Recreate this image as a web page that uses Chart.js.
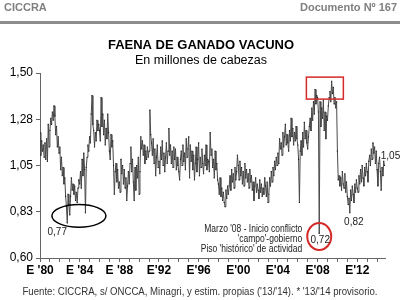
<!DOCTYPE html>
<html>
<head>
<meta charset="utf-8">
<script src="https://cdn.jsdelivr.net/npm/chart.js@4/dist/chart.umd.min.js"></script>
<style>
  html, body { margin: 0; padding: 0; background: #fff; }
  #chart { display: block; }
</style>
</head>
<body>
<canvas id="chart" width="400" height="300"></canvas>
<script>
const FONT = "'Liberation Sans', Arial, sans-serif";

// Faena mensual, millones de cabezas (ene-1980 a oct-2014), una fila por año
const firstYear = 1980;
const faena1980s = [
  1.21, 1.10, 1.17, 1.12, 1.15, 1.09, 1.16, 1.08, 1.18, 1.07, 1.25, 1.14,
  1.22, 1.28, 1.25, 1.31, 1.27, 1.34, 1.29, 1.20, 1.24, 1.14, 1.19, 1.11,
  1.14, 1.03, 1.09, 1.00, 1.04, 0.96, 0.99, 0.90, 0.85, 0.77, 0.91, 0.86,
  0.81, 0.90, 0.99, 0.93, 0.96, 0.91, 0.95, 0.88, 0.92, 0.87, 0.94, 0.98,
  0.96, 1.02, 0.94, 1.08, 1.00, 1.11, 1.03, 0.82, 1.04, 1.09, 1.15, 1.12,
  1.19, 1.16, 1.30, 1.39, 1.25, 1.22, 1.14, 1.21, 1.17, 1.27, 1.22, 1.25,
  1.22, 1.17, 1.38, 1.24, 1.30, 1.20, 1.27, 1.15, 1.23, 1.18, 1.30, 1.21,
  1.12, 1.08, 1.20, 1.14, 1.17, 1.05, 0.91, 1.02, 1.06, 0.97, 1.03, 0.94,
  0.97, 0.92, 1.08, 1.01, 1.05, 0.96, 1.03, 0.94, 0.99, 0.88, 0.95, 1.02,
  0.96, 1.06, 1.14, 1.02, 1.08, 0.97, 0.88, 1.04, 0.93, 1.05, 0.99, 1.09
];
const faena1990s = [
  0.91, 1.02, 1.19, 1.13, 1.17, 1.10, 1.15, 1.06, 1.12, 1.08, 1.14, 1.09,
  1.12, 1.32, 1.20, 1.16, 1.10, 1.18, 1.06, 1.13, 1.00, 1.09, 1.15, 1.04,
  1.07, 1.01, 1.14, 1.08, 1.17, 1.05, 1.11, 1.02, 1.09, 1.16, 1.06, 1.12,
  1.23, 1.10, 1.15, 1.06, 1.12, 1.04, 1.14, 1.08, 1.13, 1.03, 1.09, 1.05,
  1.02, 0.98, 1.08, 1.12, 1.05, 1.15, 1.07, 1.11, 1.03, 1.18, 1.09, 1.13,
  1.19, 0.99, 1.15, 1.07, 1.12, 1.03, 1.10, 0.98, 1.06, 1.14, 1.02, 1.08,
  1.16, 1.00, 1.09, 1.04, 1.13, 1.06, 1.01, 1.10, 1.05, 1.15, 1.03, 1.08,
  1.07, 1.02, 1.21, 1.10, 1.13, 1.04, 1.08, 0.99, 1.12, 1.03, 1.06, 0.98,
  0.96, 0.91, 0.99, 0.90, 0.94, 0.88, 0.92, 0.87, 0.85, 0.93, 0.89, 0.95,
  0.91, 0.95, 1.00, 0.93, 1.03, 0.97, 1.01, 0.94, 1.04, 0.98, 1.02, 1.10
];
const faena2000s = [
  1.05, 0.98, 1.07, 1.00, 1.04, 0.96, 1.02, 0.95, 1.06, 0.99, 1.03, 0.97,
  1.01, 0.94, 1.03, 0.97, 1.00, 0.93, 0.97, 0.88, 0.95, 0.99, 0.92, 0.96,
  0.93, 0.89, 0.98, 0.92, 0.96, 0.90, 0.94, 0.91, 0.99, 0.95, 0.90, 0.97,
  0.87, 0.91, 0.99, 0.95, 1.02, 0.97, 1.04, 1.00, 1.07, 1.03, 1.09, 1.05,
  1.11, 1.06, 1.18, 1.13, 1.16, 1.10, 1.21, 1.14, 1.19, 1.25, 1.15, 1.20,
  1.16, 1.12, 1.22, 1.17, 1.28, 1.19, 1.23, 1.15, 1.21, 1.17, 1.24, 1.18,
  1.15, 1.08, 0.87, 1.12, 1.17, 1.10, 1.21, 1.14, 1.26, 1.18, 1.22, 1.16,
  1.13, 1.19, 1.24, 1.28, 1.22, 1.33, 1.27, 1.36, 1.30, 1.42, 1.35, 1.39,
  1.38, 1.31, 0.72, 1.36, 1.24, 1.33, 1.28, 1.37, 1.22, 1.31, 1.18, 1.29,
  1.27, 1.34, 1.38, 1.41, 1.36, 1.46, 1.40, 1.43, 1.35, 1.38, 1.33, 1.36
];
const faena2010s = [
  1.12, 0.98, 1.00, 0.95, 0.99, 0.93, 1.02, 0.96, 0.94, 1.01, 0.92, 0.97,
  0.90, 0.86, 0.89, 0.82, 0.93, 0.88, 0.95, 0.91, 0.87, 0.96, 0.92, 0.98,
  0.94, 0.92, 1.00, 0.96, 1.03, 0.97, 1.05, 0.99, 0.95, 1.04, 1.00, 1.06,
  1.02, 0.97, 1.07, 1.10, 1.05, 1.13, 1.08, 1.16, 1.11, 1.14, 1.06, 1.12,
  1.03, 0.95, 1.06, 1.09, 1.02, 0.93, 1.04, 1.00, 1.07, 1.05
];

const xTickLabels = ["E '80", "E '84", "E '88", "E'92", "E'96", "E'00", "E'04", "E'08", "E'12"];
const yTickValues = [0.60, 0.825, 1.05, 1.275, 1.50];
const yTickLabels = ["0,60", "0,83", "1,05", "1,28", "1,50"];

// meses destacados (índice dentro de la serie)
const mesMinimo83 = 33;   // oct-82
const mesMarzo08 = 338;   // mar-08
const mesMinimo11 = 375;  // abr-11
const notaMarzo08 = ["Marzo '08 - Inicio conflicto", "'campo'-gobierno", "Piso 'histórico' de actividad"];
const fuente = "Fuente: CICCRA, s/ ONCCA, Minagri, y estim. propias ('13/'14). * '13/'14 provisorio.";

const faena = [...faena1980s, ...faena1990s, ...faena2000s, ...faena2010s];
const points = faena.map((v, i) => ({ x: firstYear + i / 12, y: v }));
const lastYear = firstYear + (faena.length - 1) / 12;

const years = [];
for (let yr = firstYear; yr <= Math.floor(lastYear); yr++) years.push(yr);

function fmt(v) {
  return v.toFixed(2).replace(".", ",");
}

function ellipse(ctx, x1, x2, y1, y2) {
  ctx.beginPath();
  ctx.ellipse((x1 + x2) / 2, (y1 + y2) / 2, Math.abs(x2 - x1) / 2, Math.abs(y2 - y1) / 2, 0, 0, Math.PI * 2);
  ctx.stroke();
}

const decoracion = {
  id: "decoracion",
  beforeDraw(chart) {
    const ctx = chart.ctx;
    ctx.save();
    ctx.fillStyle = "#fff";
    ctx.fillRect(0, 0, chart.width, chart.height);

    ctx.textBaseline = "middle";
    ctx.font = "bold 11px " + FONT;
    ctx.fillStyle = "#7f7f7f";
    ctx.textAlign = "left";
    ctx.fillText("CICCRA", 4, 8);
    ctx.textAlign = "right";
    ctx.fillText("Documento Nº 167", 397, 8);
    ctx.fillStyle = "#8c8c8c";
    ctx.fillRect(0, 21, chart.width, 3);

    ctx.fillStyle = "#000";
    ctx.textAlign = "center";
    ctx.font = "bold 13px " + FONT;
    ctx.fillText("FAENA DE GANADO VACUNO", 201, 45);
    ctx.font = "12.5px " + FONT;
    ctx.fillText("En millones de cabezas", 201, 61);

    ctx.font = "10px " + FONT;
    ctx.fillStyle = "#333";
    ctx.fillText(fuente, 200, 292, 355);
    ctx.restore();
  },
  afterDraw(chart) {
    const ctx = chart.ctx;
    const xs = chart.scales.x;
    const ys = chart.scales.y;
    const px = (i) => xs.getPixelForValue(points[i].x);
    const py = (i) => ys.getPixelForValue(points[i].y);
    ctx.save();

    // óvalo negro sobre los mínimos de 1982-84
    ctx.strokeStyle = "#000";
    ctx.lineWidth = 1.5;
    ellipse(ctx, xs.getPixelForValue(1981.2), xs.getPixelForValue(1986.65), ys.getPixelForValue(0.86), ys.getPixelForValue(0.75));

    // recuadro rojo sobre los máximos 2007-09
    ctx.strokeStyle = "#d42a2a";
    ctx.lineWidth = 1.5;
    const rx1 = xs.getPixelForValue(2006.87), rx2 = xs.getPixelForValue(2010.6);
    const ry1 = ys.getPixelForValue(1.48), ry2 = ys.getPixelForValue(1.373);
    ctx.strokeRect(rx1, ry1, rx2 - rx1, ry2 - ry1);

    // círculo rojo en marzo '08
    ctx.lineWidth = 2;
    const cx = px(mesMarzo08);
    ellipse(ctx, cx - 12, cx + 12, ys.getPixelForValue(0.77), ys.getPixelForValue(0.639));

    ctx.fillStyle = "#222";
    ctx.textAlign = "center";
    ctx.textBaseline = "middle";
    ctx.font = "10px " + FONT;
    ctx.fillText(fmt(points[mesMinimo83].y), px(mesMinimo83) - 10, py(mesMinimo83) + 9);
    ctx.fillText(fmt(points[mesMarzo08].y), cx + 1, ys.getPixelForValue(0.685));
    ctx.fillText(fmt(points[mesMinimo11].y), px(mesMinimo11) + 4, py(mesMinimo11) + 9);
    const last = points.length - 1;
    ctx.fillText(fmt(points[last].y), px(last) + 6, py(last) - 9);

    ctx.textAlign = "right";
    const notaX = px(mesMarzo08) - 17;
    notaMarzo08.forEach((line, k) => {
      const w = ctx.measureText(line).width;
      ctx.fillText(line, notaX, 229 + k * 10, w * 0.85);
    });
    ctx.restore();
  }
};

new Chart(document.getElementById("chart"), {
  type: "line",
  data: {
    datasets: [{
      data: points,
      borderColor: "#4a4a4a",
      borderWidth: 1,
      pointStyle: "rect",
      pointRadius: 0.8,
      pointBackgroundColor: "#222",
      pointBorderColor: "#222",
      pointBorderWidth: 0,
      tension: 0
    }]
  },
  options: {
    responsive: false,
    animation: false,
    devicePixelRatio: 1,
    layout: { padding: { top: 73, right: 15, bottom: 20, left: 0 } },
    plugins: { legend: { display: false }, tooltip: { enabled: false } },
    scales: {
      x: {
        type: "linear",
        min: firstYear,
        max: lastYear + 0.05,
        afterBuildTicks: (s) => { s.ticks = years.map((v) => ({ value: v })); },
        afterFit: (s) => { s.height = 22; },
        border: { color: "#666", width: 1 },
        grid: { drawOnChartArea: false, drawTicks: true, tickLength: 4, color: "#666" },
        ticks: {
          autoSkip: false,
          maxRotation: 0,
          padding: 1,
          color: "#000",
          font: { family: FONT, size: 12, weight: "bold" },
          callback: (v) => ((v - firstYear) % 4 === 0 ? xTickLabels[(v - firstYear) / 4] : "")
        }
      },
      y: {
        min: 0.60,
        max: 1.50,
        afterBuildTicks: (s) => { s.ticks = yTickValues.map((v) => ({ value: v })); },
        afterFit: (s) => { s.width = 40; },
        border: { color: "#666", width: 1 },
        grid: { drawOnChartArea: false, drawTicks: true, tickLength: 4, color: "#666" },
        ticks: {
          padding: 3,
          color: "#000",
          font: { family: FONT, size: 12 },
          callback: (v, i) => yTickLabels[i]
        }
      }
    }
  },
  plugins: [decoracion]
});
</script>
</body>
</html>
